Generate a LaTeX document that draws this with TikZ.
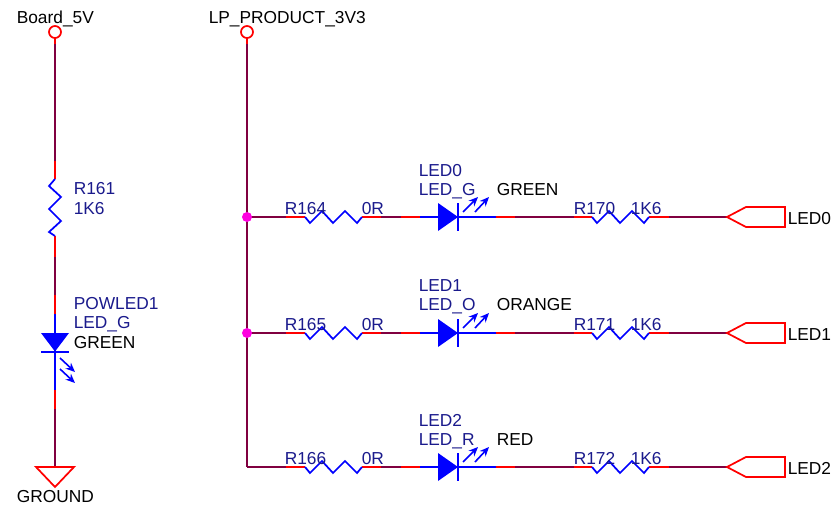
\documentclass[tikz,border=0pt]{standalone}
\usepackage{fontspec}
\setmainfont{Liberation Sans}
\usetikzlibrary{arrows.meta}
\definecolor{wirec}{HTML}{800040}
\definecolor{refc}{HTML}{1A1A8C}
\definecolor{pinc}{HTML}{FF0000}
\definecolor{symc}{HTML}{0000FF}
\definecolor{junc}{HTML}{FF00E0}
\tikzset{
  wire/.style={draw=wirec,line width=1.5pt},
  pin/.style={draw=pinc,line width=1.5pt},
  sym/.style={draw=symc,line width=1.3pt,line join=miter},
  outl/.style={draw=pinc,line width=1.3pt,line join=miter},
  ray/.style={draw=symc,line width=1.2pt,-{Stealth[length=7pt,width=6pt]}},
  lbl/.style={anchor=base west,inner sep=0pt,font=\fontsize{13pt}{15pt}\selectfont,text=black},
  ref/.style={lbl,text=refc},
  junction/.style={circle,fill=junc,inner sep=0pt,minimum size=7.5pt},
  term/.style={circle,draw=pinc,line width=1.3pt,fill=white,inner sep=0pt,minimum size=9pt}
}
\newcommand{\ledrow}[4]{%
  % #1 y, #2 first resistor, #3 second resistor, #4 port
  \begin{scope}[yshift={(#1)*-0.75pt}]
    \coordinate (a#4) at (247,0);
    \coordinate (b#4) at (286,0);
    \coordinate (c#4) at (305,0);
    \coordinate (d#4) at (362,0);
    \coordinate (e#4) at (381,0);
    \coordinate (f#4) at (401,0);
    \coordinate (g#4) at (420,0);
    \coordinate (h#4) at (458,0);
    \coordinate (i#4) at (496,0);
    \coordinate (j#4) at (515,0);
    \coordinate (k#4) at (574,0);
    \coordinate (l#4) at (592,0);
    \coordinate (m#4) at (649,0);
    \coordinate (n#4) at (669,0);
    \coordinate (o#4) at (727,0);
    \draw[wire] (a#4) -- (b#4) (e#4) -- (f#4) (j#4) -- (k#4) (n#4) -- (o#4);
    \draw[pin] (b#4) -- (c#4) (d#4) -- (e#4) (f#4) -- (g#4) (i#4) -- (j#4) (k#4) -- (l#4) (m#4) -- (n#4);
    \draw[sym] (c#4) -- (310,6) -- (322,-6) -- (333,6) -- (345,-6) -- (357,6) -- (d#4);
    \draw[sym] (l#4) -- (597,6) -- (609,-6) -- (620,6) -- (632,-6) -- (644,6) -- (m#4);
    \draw[sym] (g#4) -- (i#4);
    \fill[symc] (438,-14) -- (h#4) -- (438,14) -- cycle;
    \draw[sym] (458,-14) -- (458,14);
    \draw[ray] (463,-5) -- (478,-20);
    \draw[ray] (475,-5) -- (489,-20);
    \draw[outl] (o#4) -- (746,-10) -- (785,-10) -- (785,10) -- (746,10) -- cycle;
    \node[ref] (rn#4) at (284.5,-3) {#2};
    \node[ref] (rv#4) at (361.5,-3) {0R};
    \node[ref] (rm#4) at (573.5,-3) {#3};
    \node[ref] (rw#4) at (630.5,-3) {1K6};
    \node[lbl] (port#4) at (787.5,7) {#4};
  \end{scope}
}
\begin{document}
\begin{tikzpicture}[x=0.75pt,y=-0.75pt]
\useasboundingbox (0,0) rectangle (833,514);
% left branch
\coordinate (p0) at (55,38);
\coordinate (p1) at (55,44);
\coordinate (p2) at (55,161);
\coordinate (p3) at (55,179);
\coordinate (p4) at (55,236);
\coordinate (p5) at (55,257);
\coordinate (p6) at (55,295);
\coordinate (p7) at (55,314);
\coordinate (p8) at (55,390);
\coordinate (p9) at (55,409);
\coordinate (p10) at (55,467);
\draw[wire] (p1) -- (p2) (p5) -- (p6) (p9) -- (p10);
\draw[pin] (p0) -- (p1) (p2) -- (p3) (p4) -- (p5) (p6) -- (p7) (p8) -- (p9);
\draw[sym] (p3) -- (49,186) -- (61,197) -- (49,209) -- (61,221) -- (49,232) -- (p4);
\draw[sym] (p7) -- (p8);
\fill[symc] (41,333) -- (69,333) -- (55,351.5) -- cycle;
\draw[sym] (41,352) -- (69,352);
\draw[ray] (60,358) -- (75,372);
\draw[ray] (60,369) -- (75,383);
\draw[outl] (36,467) -- (74,467) -- (55,487) -- cycle;
\node[term] (t1) at (55,32) {};
\node[lbl] (n1) at (16.5,23) {Board\_5V};
\node[ref] (n2) at (73.5,194) {R161};
\node[ref] (n3) at (73.5,214) {1K6};
\node[ref] (n4) at (73.5,309) {POWLED1};
\node[ref] (n5) at (73.5,328) {LED\_G};
\node[lbl] (n6) at (73.5,348) {GREEN};
\node[lbl] (n7) at (16.5,502) {GROUND};
% right rail
\coordinate (q0) at (247,38);
\coordinate (q1) at (247,44);
\coordinate (q2) at (247,467);
\draw[pin] (q0) -- (q1);
\draw[wire] (q1) -- (q2);
\node[term] (t2) at (247,32) {};
\node[lbl] (n8) at (208.5,23) {LP\_PRODUCT\_3V3};
% rows
\ledrow{217}{R164}{R170}{LED0}
\ledrow{333}{R165}{R171}{LED1}
\ledrow{467}{R166}{R172}{LED2}
\node[junction] (j1) at (247,217) {};
\node[junction] (j2) at (247,333) {};
\node[ref] (l0a) at (418.5,176) {LED0};
\node[ref] (l0b) at (418.5,195) {LED\_G};
\node[lbl] (l0c) at (496.5,195) {GREEN};
\node[ref] (l1a) at (418.5,291) {LED1};
\node[ref] (l1b) at (418.5,310) {LED\_O};
\node[lbl] (l1c) at (496.5,310) {ORANGE};
\node[ref] (l2a) at (418.5,426) {LED2};
\node[ref] (l2b) at (418.5,445) {LED\_R};
\node[lbl] (l2c) at (496.5,445) {RED};
\end{tikzpicture}
\end{document}
